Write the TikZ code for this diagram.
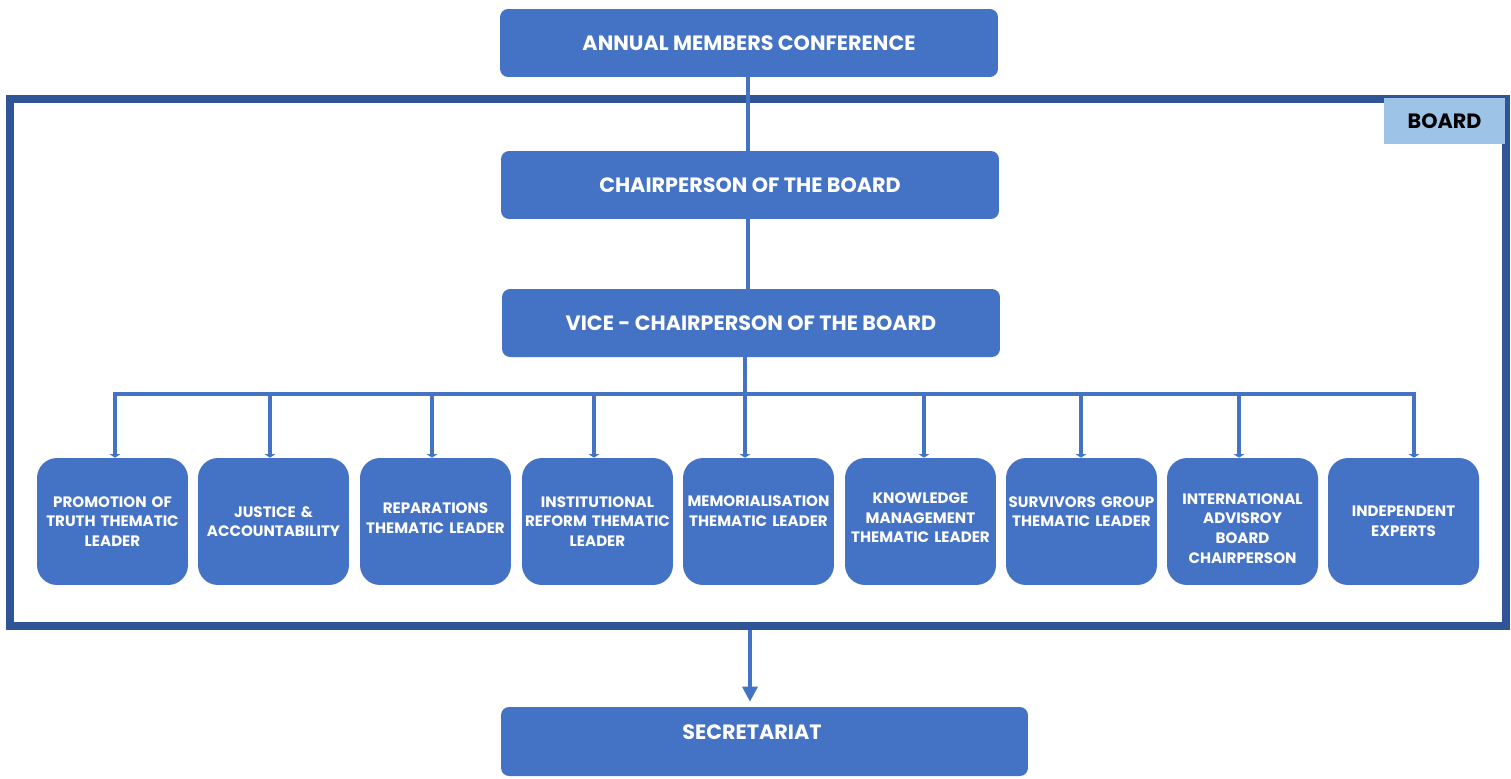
\documentclass[tikz,border=0pt]{standalone}
\usepackage{fontspec}
\setmainfont{Poppins}
\usetikzlibrary{arrows.meta}
\definecolor{boxblue}{HTML}{4472C4}
\definecolor{framblue}{HTML}{2F5597}
\definecolor{lightblue}{HTML}{9DC3E6}
\tikzset{
  topbox/.style={fill=boxblue, draw=none, rounded corners=0.16cm, minimum width=9.96cm, minimum height=1.36cm, text=white, font=\fontsize{11.8}{14}\selectfont\bfseries, inner sep=0pt},
  leafbox/.style={fill=boxblue, draw=none, rounded corners=0.4cm, minimum width=3.02cm, minimum height=2.54cm, text=white, align=center, text width=3.0cm, font=\fontsize{8.6}{11.2}\selectfont\bfseries, inner sep=0pt},
  frame/.style={draw=framblue, line width=4.5pt, minimum width=29.92cm, minimum height=10.54cm, inner sep=0pt},
  boardlabel/.style={fill=lightblue, draw=none, minimum width=2.42cm, minimum height=0.92cm, font=\fontsize{11.8}{14}\selectfont\bfseries, text=black, inner sep=0pt},
  conn/.style={draw=boxblue, line width=1.8pt},
  bar/.style={draw=boxblue, line width=2.8pt},
  drop/.style={draw=boxblue, line width=2.2pt, -{Triangle[width=6pt,length=2pt]}},
  bigarrow/.style={draw=boxblue, line width=2pt, -{Triangle[width=8.5pt,length=8.5pt]}, shorten >=0.1cm}
}
\begin{document}
\begin{tikzpicture}[x=0.02cm, y=-0.02cm]
\useasboundingbox (0,0) rectangle (1511,778);
\node[frame] (board) at (758,362.5) {};
\node[boardlabel] (blabel) at (1444.5,121) {BOARD};
\node[topbox] (annual) at (749,43) {ANNUAL MEMBERS CONFERENCE};
\node[topbox] (chair) at (750,185) {CHAIRPERSON OF THE BOARD};
\node[topbox] (vice) at (751,323) {VICE - CHAIRPERSON OF THE BOARD};
\node[topbox, minimum width=10.54cm, minimum height=1.38cm] (sec) at (764.5,741.5) {\raisebox{0.36cm}{\hspace*{-0.5cm}SECRETARIAT}};

\node[leafbox] (l1) at (112.5,521.5) {PROMOTION OF\\TRUTH THEMATIC\\LEADER};
\node[leafbox] (l2) at (273.5,521.5) {JUSTICE \&\\ACCOUNTABILITY};
\node[leafbox] (l3) at (435.5,521.5) {REPARATIONS\\THEMATIC LEADER\\[-7pt]~};
\node[leafbox] (l4) at (597.5,521.5) {INSTITUTIONAL\\REFORM THEMATIC\\LEADER};
\node[leafbox] (l5) at (758.5,521.5) {MEMORIALISATION\\THEMATIC LEADER\\[1pt]~};
\node[leafbox] (l6) at (920.5,521.5) {KNOWLEDGE\\MANAGEMENT\\THEMATIC LEADER\\[-7pt]~};
\node[leafbox] (l7) at (1081.5,521.5) {SURVIVORS GROUP\\THEMATIC LEADER\\~};
\node[leafbox] (l8) at (1242.5,521.5) {INTERNATIONAL\\ADVISROY\\BOARD\\CHAIRPERSON\\[-19pt]~};
\node[leafbox] (l9) at (1403.5,521.5) {INDEPENDENT\\EXPERTS};

\coordinate (barL) at (113,394);
\coordinate (barR) at (1416,394);
\coordinate (barM) at (745,394);
\coordinate (secTop) at (750,630);

\draw[conn] (annual.south -| 748,0) -- (chair.north -| 748,0);
\draw[conn] (chair.south -| 748,0) -- (vice.north -| 748,0);
\draw[bar] (vice.south -| barM) -- (barM);
\draw[bar] (barL) -- (barR);
\foreach \n/\x in {l1/115,l2/270,l3/432,l4/594,l5/745,l6/924,l7/1081,l8/1239,l9/1414}{
  \draw[drop] (\x,394) -- (\n.north -| \x,0);
}
\draw[bigarrow] (secTop) -- (secTop |- sec.north);
\end{tikzpicture}
\end{document}
